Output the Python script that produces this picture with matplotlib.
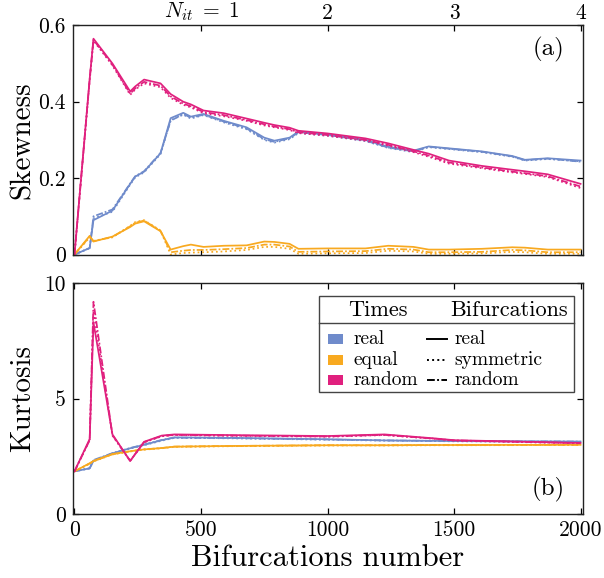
import matplotlib
matplotlib.use("Agg")
import matplotlib.pyplot as plt
from matplotlib.patches import Rectangle
from matplotlib.lines import Line2D

plt.rcParams['font.family'] = ['cmr10', 'DejaVu Serif']
plt.rcParams['mathtext.fontset'] = 'cm'
plt.rcParams['axes.formatter.use_mathtext'] = True

# ---------------- data ----------------
skew_x = [0, 60, 75, 150, 220, 240, 275, 340, 380, 430, 460, 510, 590, 680, 750, 790,
          850, 885, 1000, 1150, 1240, 1340, 1400, 1480, 1610, 1730, 1780, 1870, 2000]

skew_real_real = [0, 0.017, 0.090, 0.115, 0.185, 0.204, 0.217, 0.265, 0.357, 0.371, 0.361, 0.368,
                  0.350, 0.333, 0.306, 0.298, 0.306, 0.322, 0.315, 0.300, 0.282, 0.272, 0.283,
                  0.278, 0.270, 0.258, 0.248, 0.252, 0.246]
skew_real_sym = [0, 0.017, 0.095, 0.112, 0.183, 0.202, 0.215, 0.263, 0.352, 0.366, 0.356, 0.365,
                 0.346, 0.328, 0.300, 0.293, 0.302, 0.318, 0.311, 0.297, 0.279, 0.268, 0.281,
                 0.276, 0.268, 0.256, 0.246, 0.250, 0.244]
skew_real_rand = [0, 0.017, 0.100, 0.118, 0.186, 0.205, 0.218, 0.266, 0.350, 0.368, 0.358, 0.366,
                  0.348, 0.330, 0.302, 0.295, 0.304, 0.320, 0.313, 0.298, 0.280, 0.270, 0.282,
                  0.277, 0.269, 0.257, 0.247, 0.251, 0.243]

skew_equal_real = [0, 0.049, 0.034, 0.047, 0.072, 0.081, 0.087, 0.061, 0.013, 0.022, 0.026, 0.020,
                   0.023, 0.024, 0.034, 0.033, 0.028, 0.015, 0.016, 0.016, 0.023, 0.020, 0.013,
                   0.013, 0.015, 0.019, 0.018, 0.013, 0.013]
skew_equal_sym = [0, 0.045, 0.036, 0.045, 0.075, 0.085, 0.090, 0.063, 0.000, 0.004, 0.005, 0.006,
                  0.008, 0.012, 0.020, 0.020, 0.015, 0.002, 0.003, 0.004, 0.010, 0.008, 0.002,
                  0.002, 0.003, 0.007, 0.006, 0.002, 0.002]
skew_equal_rand = [0, 0.047, 0.035, 0.046, 0.074, 0.083, 0.089, 0.062, 0.006, 0.010, 0.012, 0.012,
                   0.014, 0.017, 0.026, 0.026, 0.021, 0.007, 0.008, 0.009, 0.015, 0.013, 0.006,
                   0.006, 0.007, 0.012, 0.011, 0.006, 0.006]

skew_random_real = [0, 0.460, 0.565, 0.500, 0.427, 0.440, 0.458, 0.448, 0.420, 0.400, 0.393, 0.377,
                    0.370, 0.356, 0.345, 0.339, 0.332, 0.324, 0.317, 0.304, 0.291, 0.274, 0.264,
                    0.246, 0.232, 0.222, 0.218, 0.210, 0.185]
skew_random_sym = [0, 0.455, 0.560, 0.495, 0.418, 0.432, 0.448, 0.438, 0.410, 0.392, 0.385, 0.370,
                   0.362, 0.350, 0.338, 0.333, 0.326, 0.318, 0.311, 0.298, 0.285, 0.268, 0.256,
                   0.238, 0.226, 0.215, 0.211, 0.203, 0.174]
skew_random_rand = [0, 0.458, 0.562, 0.497, 0.421, 0.435, 0.452, 0.442, 0.414, 0.395, 0.388, 0.373,
                    0.365, 0.352, 0.341, 0.335, 0.328, 0.320, 0.313, 0.300, 0.287, 0.270, 0.259,
                    0.241, 0.228, 0.217, 0.213, 0.205, 0.178]

kurt_x = [0, 60, 75, 150, 220, 275, 345, 395, 625, 1000, 1225, 1420, 1500, 2000]

kurt_real_real = [1.85, 1.98, 2.30, 2.63, 2.85, 3.00, 3.20, 3.32, 3.30, 3.24, 3.19, 3.17, 3.16, 3.14]
kurt_real_sym = [1.85, 1.98, 2.32, 2.62, 2.84, 2.98, 3.18, 3.30, 3.28, 3.22, 3.18, 3.16, 3.15, 3.13]
kurt_real_rand = [1.85, 1.98, 2.34, 2.64, 2.86, 3.01, 3.21, 3.31, 3.29, 3.23, 3.19, 3.17, 3.16, 3.14]

kurt_equal_real = [1.85, 2.20, 2.30, 2.60, 2.72, 2.80, 2.86, 2.92, 2.95, 2.98, 2.98, 2.99, 2.99, 3.00]
kurt_equal_sym = [1.85, 2.18, 2.28, 2.58, 2.71, 2.79, 2.85, 2.91, 2.94, 2.97, 2.97, 2.98, 2.98, 2.99]
kurt_equal_rand = [1.85, 2.19, 2.29, 2.59, 2.72, 2.80, 2.86, 2.92, 2.95, 2.98, 2.98, 2.99, 2.99, 3.00]

kurt_random_real = [1.85, 3.25, 8.30, 3.45, 2.30, 3.13, 3.40, 3.45, 3.42, 3.38, 3.45, 3.28, 3.20, 3.08]
kurt_random_sym = [1.85, 3.20, 8.80, 3.40, 2.30, 3.10, 3.37, 3.42, 3.39, 3.35, 3.42, 3.26, 3.18, 3.06]
kurt_random_rand = [1.85, 3.20, 9.20, 3.42, 2.30, 3.12, 3.38, 3.43, 3.40, 3.36, 3.43, 3.27, 3.19, 3.07]

x_ticks = [0, 500, 1000, 1500, 2000]
x_ticklabels = ['0', '500', '1000', '1500', '2000']
nit_ticks = [500, 1000, 1500, 2000]
nit_labels = ['$N_{it}\\;=\\;1$', '2', '3', '4']
skew_ticks = [0, 0.2, 0.4, 0.6]
skew_ticklabels = ['0', '0.2', '0.4', '0.6']
kurt_ticks = [0, 5, 10]
kurt_ticklabels = ['0', '5', '10']

time_names = ['real', 'equal', 'random']
bif_names = ['real', 'symmetric', 'random']

# ---------------- style ----------------
c_blue = '#6f8bcb'
c_orange = '#f8a920'
c_pink = '#e0207e'
colors = [c_blue, c_orange, c_pink]
styles = ['-', ':', (0, (4, 1.2, 1, 1.2))]
lw = 1.25

fig = plt.figure(figsize=(6.04, 5.78), dpi=100)
ax1 = fig.add_axes([0.1204, 0.5583, 0.8454, 0.3979])
ax2 = fig.add_axes([0.1204, 0.1107, 0.8454, 0.3992])

skew_sets = [
    [skew_real_real, skew_real_sym, skew_real_rand],
    [skew_equal_real, skew_equal_sym, skew_equal_rand],
    [skew_random_real, skew_random_sym, skew_random_rand],
]
kurt_sets = [
    [kurt_real_real, kurt_real_sym, kurt_real_rand],
    [kurt_equal_real, kurt_equal_sym, kurt_equal_rand],
    [kurt_random_real, kurt_random_sym, kurt_random_rand],
]

for col, group in zip(colors, skew_sets):
    for ls, ys in zip(styles, group):
        ax1.plot(skew_x, ys, color=col, ls=ls, lw=lw)
for col, group in zip(colors, kurt_sets):
    for ls, ys in zip(styles, group):
        ax2.plot(kurt_x, ys, color=col, ls=ls, lw=lw)

tick_fs = 15.5
for ax in (ax1, ax2):
    ax.set_xlim(-7, 2011)
    ax.tick_params(direction='in', length=4.5, width=0.9, top=True, right=True,
                   labelsize=tick_fs, pad=5)
    for s in ax.spines.values():
        s.set_linewidth(1.0)
        s.set_color('#222222')

ax1.set_ylim(-0.002, 0.6)
ax1.set_yticks(skew_ticks)
ax1.set_yticklabels(skew_ticklabels)
ax1.set_xticks(nit_ticks)
ax1.set_xticklabels(nit_labels)
ax1.tick_params(axis='x', labelbottom=False, labeltop=True, pad=2)
ax1.set_ylabel('Skewness', fontsize=21)
ax1.yaxis.set_label_coords(-0.072, 0.5)
ax1.text(0.963, 0.895, '(a)', transform=ax1.transAxes, fontsize=18, ha='right', va='center')

ax2.set_ylim(0, 10)
ax2.set_yticks(kurt_ticks)
ax2.set_yticklabels(kurt_ticklabels)
ax2.set_xticks(x_ticks)
ax2.set_xticklabels(x_ticklabels)
ax2.set_ylabel('Kurtosis', fontsize=21)
ax2.yaxis.set_label_coords(-0.072, 0.5)
ax2.set_xlabel('Bifurcations number', fontsize=22, labelpad=3)
ax2.text(0.963, 0.105, '(b)', transform=ax2.transAxes, fontsize=18, ha='right', va='center')

# ---------------- legend (custom table style) ----------------
T = ax2.transAxes
box = Rectangle((0.483, 0.529), 0.499, 0.416, transform=T, fill=True, facecolor='white',
                edgecolor='#444444', lw=1.0, zorder=5)
ax2.add_patch(box)
ax2.add_line(Line2D([0.483, 0.982], [0.828, 0.828], transform=T, color='#444444', lw=1.0, zorder=6))
ax2.text(0.598, 0.884, 'Times', transform=T, fontsize=16, ha='center', va='center', zorder=7)
ax2.text(0.855, 0.884, 'Bifurcations', transform=T, fontsize=16, ha='center', va='center', zorder=7)
row_y = [0.757, 0.667, 0.580]
for y, col, name in zip(row_y, colors, time_names):
    ax2.add_patch(Rectangle((0.500, y - 0.022), 0.030, 0.044, transform=T, facecolor=col,
                            edgecolor='none', zorder=7))
    ax2.text(0.549, y, name, transform=T, fontsize=14, ha='left', va='center', zorder=7)
for y, ls, name in zip(row_y, styles, bif_names):
    ax2.add_line(Line2D([0.694, 0.733], [y, y], transform=T, color='black', ls=ls, lw=1.4, zorder=7))
    ax2.text(0.747, y, name, transform=T, fontsize=14, ha='left', va='center', zorder=7)

fig.savefig('out.png', dpi=100)
